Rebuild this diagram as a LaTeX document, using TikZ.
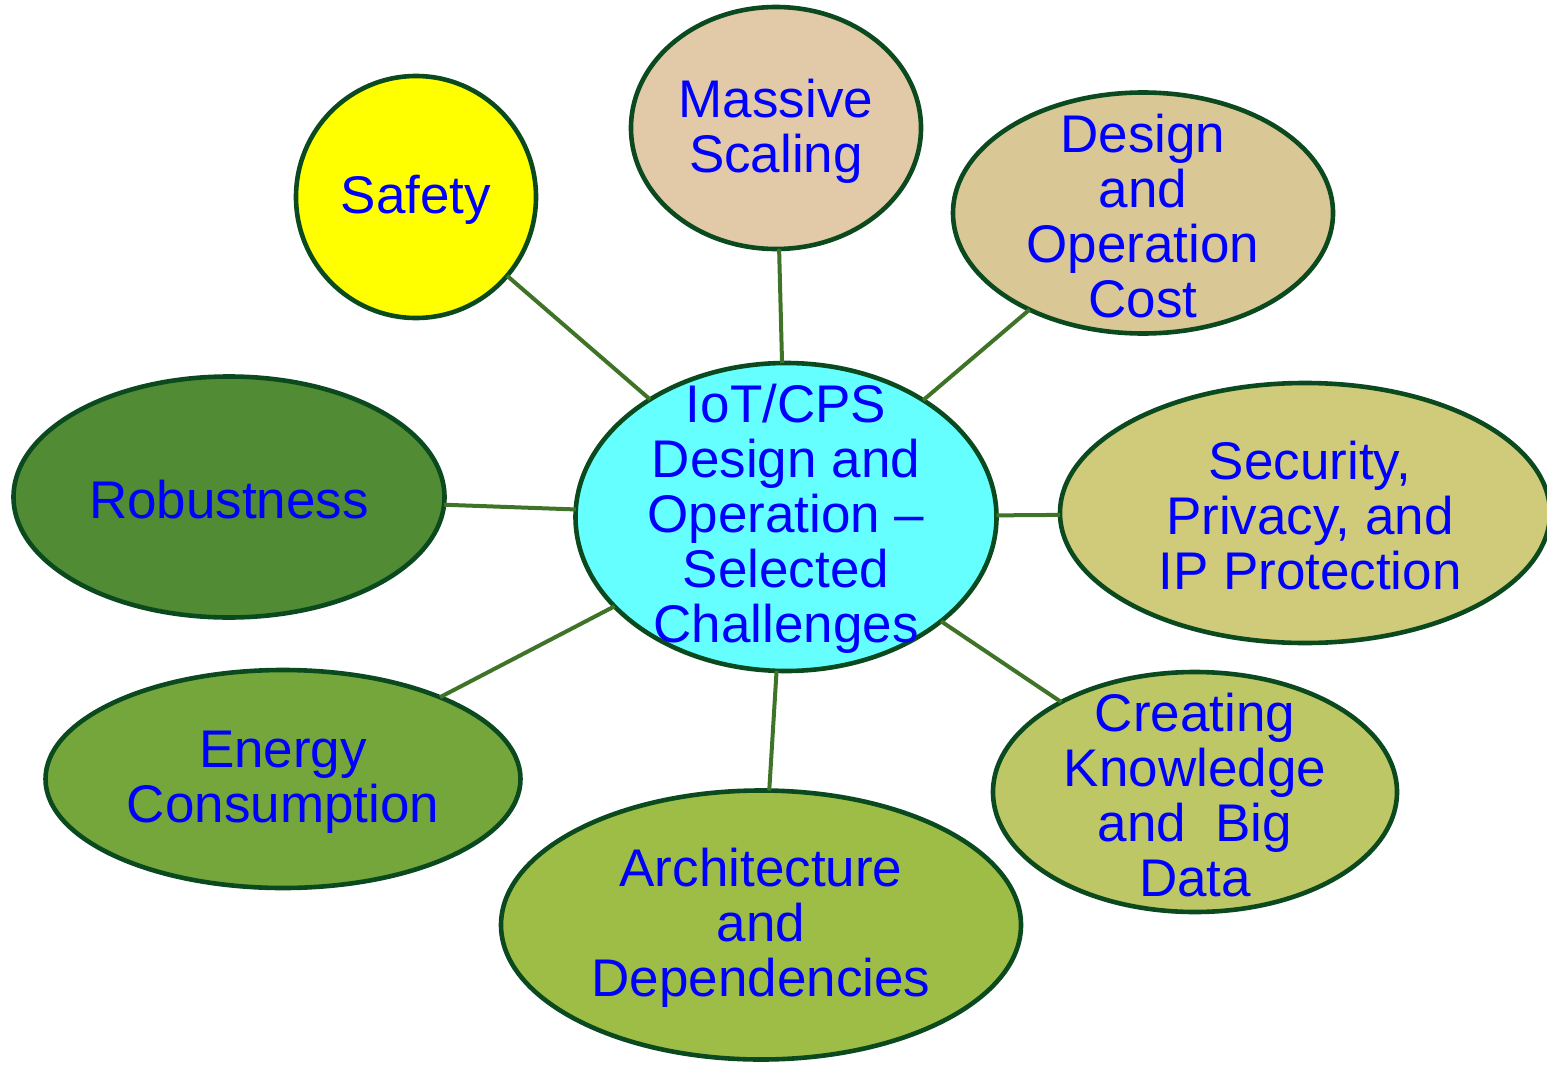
\documentclass[tikz,border=0pt]{standalone}
\usepackage{fontspec}
\setmainfont{Liberation Sans}
\usetikzlibrary{shapes.geometric}
\definecolor{bordc}{HTML}{0B4A1F}
\definecolor{linkc}{HTML}{3F7428}
\definecolor{txtc}{HTML}{0000FF}
\definecolor{cSafety}{HTML}{FFFF00}
\definecolor{cMassive}{HTML}{E2CAA9}
\definecolor{cCost}{HTML}{D9C895}
\definecolor{cSec}{HTML}{CFCB7B}
\definecolor{cKnow}{HTML}{BDC766}
\definecolor{cArch}{HTML}{9DBD47}
\definecolor{cEnergy}{HTML}{74A63B}
\definecolor{cRobust}{HTML}{518B33}
\definecolor{cCenter}{HTML}{66FFFF}
\tikzset{
  bubble/.style={ellipse, draw=bordc, line width=2.3pt, inner sep=0pt, outer sep=0pt},
  txt/.style={text=txtc, align=center, font=\fontsize{26.5}{27.5}\selectfont, inner sep=0pt, yshift=-1.5pt},
  link/.style={draw=linkc, line width=2pt},
}
\begin{document}
\begin{tikzpicture}[x=0.5pt,y=-0.5pt]
\useasboundingbox (0,0) rectangle (1547,1065);
\clip (0,0) rectangle (1547,1065);
% outer bubbles
\node[bubble, fill=cSafety, minimum width=120pt, minimum height=121pt] (safety) at (416,197) {};
\node[bubble, fill=cMassive, minimum width=145pt, minimum height=121pt] (massive) at (776,128) {};
\node[bubble, fill=cCost, minimum width=190pt, minimum height=120.5pt] (cost) at (1143,213) {};
\node[bubble, fill=cSec, minimum width=245pt, minimum height=130pt] (sec) at (1305,513) {};
\node[bubble, fill=cKnow, minimum width=202pt, minimum height=120pt] (know) at (1195,792) {};
\node[bubble, fill=cArch, minimum width=260pt, minimum height=134.5pt] (arch) at (761,925) {};
\node[bubble, fill=cEnergy, minimum width=237.5pt, minimum height=109pt] (energy) at (283,779) {};
\node[bubble, fill=cRobust, minimum width=215.5pt, minimum height=120.5pt] (robust) at (229,497) {};
\node[bubble, fill=cCenter, minimum width=210.5pt, minimum height=154pt] (center) at (786,517) {};
% connectors
\foreach \n in {safety,massive,cost,sec,know,arch,energy,robust}
  \draw[link] (center) -- (\n);
% texts
\node[txt] (tsafety) at (416,197) {Safety};
\node[txt] (tmassive) at (776,128) {Massive\\Scaling};
\node[txt] (tcost) at (1143,213) {Design\\and\\Operation\\Cost};
\node[txt] (tsec) at (1310,513) {Security,\\Privacy, and\\IP Protection};
\node[txt] (tknow) at (1195,792) {Creating\\Knowledge\\and\ \ Big\\Data};
\node[txt] (tarch) at (761,925) {Architecture\\and\\Dependencies};
\node[txt] (tenergy) at (283,779) {Energy\\Consumption};
\node[txt] (trobust) at (229,497) {Robustness};
\node[txt] (tcenter) at (786,516) {IoT/CPS\\Design and\\Operation --\\Selected\\Challenges};
\end{tikzpicture}
\end{document}
